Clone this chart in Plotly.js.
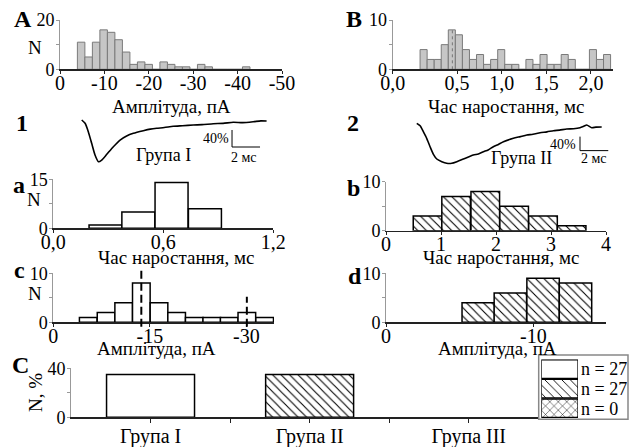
<!DOCTYPE html>
<html><head><meta charset="utf-8">
<script src="https://cdn.plot.ly/plotly-3.0.1.min.js"></script>
<style>html,body{margin:0;padding:0;background:#fff}#chart{width:632px;height:447px}</style>
</head><body><div id="chart"></div>
<script>
// ---------- DATA ----------
// Panel A: amplitude histogram (pA), bin centres and counts
const ampBinCenters = [-4.76, -6.45, -8.14, -9.83, -11.52, -13.21, -14.90, -16.59, -18.28, -19.97, -21.66, -23.35, -25.04, -26.73, -28.42, -30.11, -31.80, -33.49, -35.18, -36.87, -38.56, -40.25, -41.94];
const ampCounts = [11, 5, 11, 16, 15, 12, 7, 2, 3, 2, 0, 3, 2, 1, 1, 0, 2, 1, 0, 0, 0, 0, 1];
const ampTickVals = [0, -10, -20, -30, -40, -50];
const ampTickText = ['0', '-10', '-20', '-30', '-40', '-50'];

// Panel B: rise-time histogram (ms)
const riseBinCenters = [0.126, 0.205, 0.284, 0.363, 0.442, 0.521, 0.600, 0.679, 0.758, 0.837, 0.916, 0.995, 1.074, 1.153, 1.232, 1.311, 1.390, 1.469, 1.548, 1.627, 1.706, 1.785, 1.864, 1.943, 2.022, 2.101, 2.180];
const riseCounts = [4, 2, 2, 5, 8, 7, 4, 2, 3, 1, 2, 4, 1, 1, 0, 2, 1, 3, 1, 1, 3, 2, 0, 0, 4, 2, 3];
const riseTickVals = [-0.219, 0.5, 1.0, 1.5, 2.0];
const riseTickText = ['0,0', '0,5', '1,0', '1,5', '2,0'];
const riseMean = [0.448];
const riseMeanTop = [8];

// Panel 1: averaged current, group I (time ms, amplitude %)
const trace1T = [0, 0.24, 0.47, 0.71, 0.95, 1.19, 1.43, 1.79, 2.26, 2.74, 3.21, 3.69, 4.4, 4.9, 5.36, 5.9, 6.54, 7.2, 7.97, 8.6, 9.4, 10.1, 10.83, 11.5, 12.26, 12.8, 13.21];
const trace1Y = [0, -7.8, -27.5, -54.8, -82.4, -98.1, -94.1, -80.7, -62.8, -47.1, -37.6, -31.3, -25.2, -21.5, -19.5, -17.8, -14.8, -13.5, -11.8, -11.0, -8.7, -8.0, -5.4, -6.2, -4.0, -2.0, -2.4];
const scale1T = [10.74, 10.74, 12.74];
const scale1Y = [-23.5, -63.5, -63.5];

// Panel 2: averaged current, group II
const trace2T = [0, 0.24, 0.47, 0.71, 0.95, 1.19, 1.43, 1.79, 2.14, 2.5, 2.86, 3.33, 4.04, 4.4, 4.76, 5.1, 5.47, 5.8, 6.19, 6.9, 7.4, 7.86, 8.3, 8.81, 9.3, 9.76, 10.2, 10.71, 11.2, 11.66, 11.95, 12.14, 12.5, 12.8, 13.21];
const trace2Y = [0, -6.9, -24, -42.9, -66.9, -88.6, -102, -109.7, -114.3, -114.3, -109.7, -102, -90.6, -87.5, -81.1, -76, -66.9, -61, -52.6, -42.9, -38, -33.4, -31.5, -26.9, -24.5, -21.1, -19.5, -16.3, -15.5, -12.6, -8, -4.9, -12.6, -11, -10.6];
const scale2T = [11.66, 11.66, 13.68];
const scale2Y = [-38, -78, -78];

// Panel a: rise time, group I
const aCenters = [0.285, 0.464, 0.645, 0.827];
const aCounts = [1, 5, 14, 6];
const aTickVals = [0, 0.6, 1.2];
const aTickText = ['0,0', '0,6', '1,2'];

// Panel b: rise time, group II
const bCenters = [0.755, 1.275, 1.805, 2.33, 2.855, 3.375];
const bCounts = [3, 7, 8, 5, 3, 1];
const bTickVals = [0, 1, 2, 3, 4];

// Panel c: amplitude, group I
const cCenters = [-5.43, -8.2, -10.94, -13.68, -16.43, -19.17, -21.91, -24.63, -27.34, -30.08, -32.85];
const cCounts = [1, 2, 4, 8, 4, 2, 1, 1, 1, 2, 1];
const cTickVals = [0, -15, -30];
const cTickText = ['0', '-15', '-30'];
const cMarkerX = [-13.68, -30.08];
const cMarkerTop = [10.9, 5.2];

// Panel d: amplitude, group II
const dCenters = [-6.26, -8.44, -10.66, -12.86];
const dCounts = [4, 6, 9, 8];
const dTickVals = [0, -10];
const dTickText = ['0', '-10'];

// Panel C: groups
const groups = ['Група I', 'Група II', 'Група III'];
const groupPct = [35, 35, 0];
const groupN = ['n = 27', 'n = 27', 'n = 0'];
const groupPatterns = ['', '\\', 'x'];

// ---------- LAYOUT HELPERS ----------
const W = 632, H = 447;
const fx = p => p / W;
const fy = p => 1 - p / H;
const FONT = 'Liberation Serif';

function xAx(d0, d1, range, anchor, tv, tt, extra) {
  return Object.assign({
    domain: [fx(d0), fx(d1)], range: range, anchor: anchor,
    tickmode: 'array', tickvals: tv, ticktext: tt || tv.map(String),
    showline: true, linecolor: '#222', linewidth: 1.2,
    ticks: 'outside', ticklen: 3, tickcolor: '#222', tickwidth: 1,
    ticklabelstandoff: -8,
    tickfont: {size: 20, family: FONT, color: '#000'},
    showgrid: false, zeroline: false, fixedrange: true
  }, extra || {});
}
function yAx(d0, d1, range, anchor, tv, minor) {
  return {
    domain: [fy(d0), fy(d1)], range: range, anchor: anchor,
    tickmode: 'array', tickvals: tv, ticktext: tv.map(String),
    showline: true, linecolor: '#999', linewidth: 1,
    ticks: 'outside', ticklen: 3, tickcolor: '#999', tickwidth: 1,
    ticklabelstandoff: -2,
    minor: {tickmode: 'array', tickvals: minor, ticks: 'outside', ticklen: 3, tickcolor: '#999'},
    tickfont: {size: 18, family: FONT, color: '#000'},
    showgrid: false, zeroline: false, fixedrange: true
  };
}
function hidden(d0, d1, range, anchor, isY) {
  return {
    domain: isY ? [fy(d0), fy(d1)] : [fx(d0), fx(d1)], range: range, anchor: anchor,
    visible: false, showgrid: false, zeroline: false, fixedrange: true
  };
}

const hatch = {shape: '\\', fgcolor: '#000', bgcolor: '#fff', size: 6, solidity: 0.18, fillmode: 'replace'};
const grayBar = {color: '#c6c6c6', line: {color: '#7a7a7a', width: 1}};
const whiteBar = {color: '#fff', line: {color: '#000', width: 1.5}};

const data = [
  {type: 'bar', x: ampBinCenters, y: ampCounts, width: 1.69, marker: grayBar, xaxis: 'x', yaxis: 'y'},
  {type: 'bar', x: riseBinCenters, y: riseCounts, width: 0.079, marker: grayBar, xaxis: 'x2', yaxis: 'y2'},
  {type: 'scatter', mode: 'lines', x: [riseMean[0], riseMean[0]], y: [0, riseMeanTop[0]], line: {color: '#777', width: 1, dash: 'dot'}, xaxis: 'x2', yaxis: 'y2'},
  {type: 'scatter', mode: 'lines', x: trace1T, y: trace1Y, line: {color: '#000', width: 1.6, shape: 'spline', smoothing: 0.6}, xaxis: 'x3', yaxis: 'y3'},
  {type: 'scatter', mode: 'lines', x: scale1T, y: scale1Y, line: {color: '#000', width: 1}, xaxis: 'x3', yaxis: 'y3'},
  {type: 'scatter', mode: 'lines', x: trace2T, y: trace2Y, line: {color: '#000', width: 1.6, shape: 'spline', smoothing: 0.6}, xaxis: 'x4', yaxis: 'y4'},
  {type: 'scatter', mode: 'lines', x: scale2T, y: scale2Y, line: {color: '#000', width: 1}, xaxis: 'x4', yaxis: 'y4'},
  {type: 'bar', x: aCenters, y: aCounts, width: 0.18, marker: whiteBar, xaxis: 'x5', yaxis: 'y5'},
  {type: 'bar', x: bCenters, y: bCounts, width: 0.52, marker: {color: '#fff', line: {color: '#000', width: 1.5}, pattern: hatch}, xaxis: 'x6', yaxis: 'y6'},
  {type: 'bar', x: cCenters, y: cCounts, width: 2.74, marker: whiteBar, xaxis: 'x7', yaxis: 'y7'},
  {type: 'bar', x: dCenters, y: dCounts, width: 2.2, marker: {color: '#fff', line: {color: '#000', width: 1.5}, pattern: hatch}, xaxis: 'x8', yaxis: 'y8'},
  {type: 'bar', x: [0, 1, 2], y: groupPct, width: 0.553,
   marker: {color: '#fff', line: {color: '#000', width: groupPct.map(v => v > 0 ? 1.5 : 0)},
            pattern: {shape: groupPatterns, fgcolor: '#000', bgcolor: '#fff', size: 6, solidity: 0.18, fillmode: 'replace'}},
   xaxis: 'x9', yaxis: 'y9'},
  {type: 'bar', orientation: 'h', x: [1, 1, 1], y: [0, 1, 2], width: 0.94,
   marker: {color: '#fff', line: {color: '#000', width: 1.3},
            pattern: {shape: groupPatterns, fgcolor: '#000', bgcolor: '#fff', size: 6, solidity: 0.15, fillmode: 'replace'}},
   xaxis: 'x10', yaxis: 'y10'}
];

const layout = {
  width: W, height: H, margin: {l: 0, r: 0, t: 0, b: 0},
  paper_bgcolor: '#fff', plot_bgcolor: 'rgba(0,0,0,0)',
  showlegend: false, font: {family: FONT, color: '#000', size: 18},
  xaxis: xAx(60, 282, [0, -50], 'y', ampTickVals, ampTickText),
  yaxis: yAx(69.3, 20, [0, 20], 'x', [0, 20], [10]),
  xaxis2: xAx(392.7, 613.3, [-0.22, 2.25], 'y2', riseTickVals, riseTickText),
  yaxis2: yAx(69.3, 20, [0, 10], 'x2', [0, 10], [5]),
  xaxis3: hidden(75, 275, [-0.48, 13.81], 'y3', false),
  yaxis3: hidden(170, 110, [-117.6, 23.5], 'x3', true),
  xaxis4: hidden(405, 615, [-0.84, 14.16], 'y4', false),
  yaxis4: hidden(170, 112, [-133.4, 32.3], 'x4', true),
  xaxis5: xAx(53.3, 273.3, [0, 1.2], 'y5', aTickVals, aTickText),
  yaxis5: yAx(228.3, 179.3, [0, 15], 'x5', [0, 15], [7.5]),
  xaxis6: xAx(386, 606, [0, 4], 'y6', bTickVals),
  yaxis6: yAx(230.7, 181.7, [0, 10], 'x6', [0, 10], [5]),
  xaxis7: xAx(53.3, 274, [0, -34.3], 'y7', cTickVals, cTickText),
  yaxis7: yAx(322.3, 273.3, [0, 10], 'x7', [0, 10], [5]),
  xaxis8: xAx(386, 606, [0, -14.93], 'y8', dTickVals, dTickText),
  yaxis8: yAx(322.3, 273.3, [0, 10], 'x8', [0, 10], [5]),
  xaxis9: xAx(71, 538.7, [-0.5, 2.44], 'y9', [0, 1, 2], groups,
              {ticklen: 4, ticklabelstandoff: -4, minor: {tickmode: 'array', tickvals: [0.5, 1.5], ticks: 'outside', ticklen: 4, tickcolor: '#222'}}),
  yaxis9: yAx(417.3, 368.3, [0, 40], 'x9', [0, 40], [20]),
  xaxis10: hidden(541.3, 578, [0, 1], 'y10', false),
  yaxis10: {domain: [fy(418), fy(359.3)], range: [2.5, -0.5], anchor: 'x10', side: 'right',
            tickmode: 'array', tickvals: [0, 1, 2], ticktext: groupN, ticks: '', showline: false,
            showgrid: false, zeroline: false, fixedrange: true, ticklabelstandoff: 2,
            tickfont: {size: 18, family: FONT, color: '#000'}},
  shapes: [
    {type: 'rect', xref: 'paper', yref: 'paper', x0: fx(538.7), x1: fx(628), y0: fy(419.3), y1: fy(355),
     line: {color: '#888', width: 1.5}, fillcolor: 'rgba(0,0,0,0)'}
  ].concat(cMarkerX.map((m, i) => ({
    type: 'line', xref: 'x7', yref: 'y7 domain', x0: m, x1: m, y0: -0.09, y1: cMarkerTop[i] / 10,
    line: {color: '#000', width: 2, dash: '8px,4px'}
  }))),
  annotations: []
};

function ann(text, px, py, size, opts) {
  layout.annotations.push(Object.assign({
    text: text, xref: 'paper', yref: 'paper', x: fx(px), y: fy(py),
    xanchor: 'center', yanchor: 'middle', showarrow: false,
    font: {size: size, family: FONT, color: '#000'}
  }, opts || {}));
}
// panel letters
[['A', 23, 19], ['B', 354, 19], ['1', 22, 123.5], ['2', 353, 123], ['a', 19, 185], ['b', 353, 188],
 ['c', 19, 270], ['d', 355, 276], ['C', 20, 365]].forEach(l => ann('<b>' + l[0] + '</b>', l[1], l[2], 24));
// y titles
ann('N', 34.5, 47.5, 19);
ann('N', 33.5, 199, 19);
ann('N', 35, 293, 19);
ann('N, %', 35, 393, 19, {textangle: -90});
// x titles
ann('Амплітуда, пА', 171.7, 106, 19);
ann('Час наростання, мс', 506, 106, 19);
ann('Час наростання, мс', 176, 257, 19);
ann('Час наростання, мс', 501, 257, 19);
ann('Амплітуда, пА', 156, 348, 19);
ann('Амплітуда, пА', 497, 348, 19);
// trace labels
ann('Група I', 163.3, 155, 18);
ann('Група II', 521.7, 158.3, 18);
ann('40%', 231, 138.3, 14, {xanchor: 'right'});
ann('40%', 578.3, 144.3, 14, {xanchor: 'right'});
ann('2 мс', 243.7, 157.7, 14);
ann('2 мс', 594, 158.3, 14);

Plotly.newPlot('chart', data, layout, {staticPlot: true, displayModeBar: false});
</script>
</body></html>
